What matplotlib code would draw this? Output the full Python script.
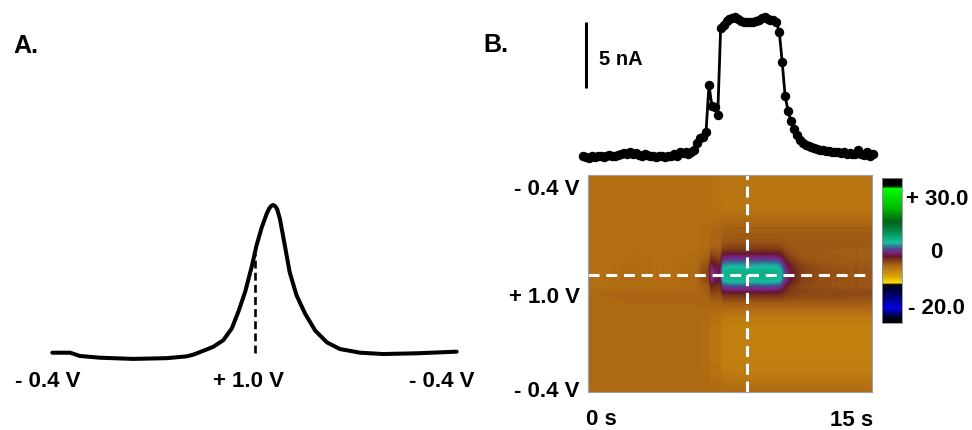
import numpy as np
import matplotlib
matplotlib.use("Agg")
import matplotlib.pyplot as plt
from matplotlib.colors import LinearSegmentedColormap, TwoSlopeNorm

plt.rcParams['font.family'] = ['Liberation Sans', 'DejaVu Sans']
plt.rcParams['font.weight'] = 'bold'

W, H = 972, 430

# ---- panel A: voltammogram, x = fraction of the -0.4 -> +1.0 -> -0.4 V sweep
cv_x = [0.0, 0.044, 0.068, 0.118, 0.2, 0.283, 0.332, 0.35, 0.365, 0.38,
        0.398, 0.423, 0.444, 0.46, 0.477, 0.493, 0.505, 0.518, 0.53, 0.536,
        0.541, 0.546, 0.551, 0.556, 0.563, 0.575, 0.587, 0.604, 0.625, 0.65,
        0.679, 0.711, 0.761, 0.818, 0.901, 1.0]
cv_i = [0.0, 0.0, -0.022, -0.034, -0.042, -0.037, -0.025, -0.012, 0.004, 0.02,
        0.04, 0.085, 0.165, 0.277, 0.413, 0.581, 0.726, 0.849, 0.94, 0.975,
        0.993, 1.0, 0.993, 0.972, 0.904, 0.726, 0.545, 0.388, 0.265, 0.15,
        0.07, 0.025, 0.0, -0.009, -0.004, 0.007]
cv_labels = ['- 0.4 V', '+ 1.0 V', '- 0.4 V']
cv_label_x = [-0.012, 0.484, 0.963]
switch_x = 0.5   # +1.0 V turning point

# ---- panel B: current at the oxidation potential, one sample every 0.15 s
t_step = 0.15
trace_nA = [0.05, 0.0, -0.05, 0.05, 0.0, 0.1, 0.05, 0.0, 0.1, 0.15,
            0.05, 0.1, 0.15, 0.2, 0.3, 0.25, 0.35, 0.2, 0.3, 0.15,
            0.1, 0.2, 0.15, 0.05, 0.1, 0.0, 0.1, 0.05, 0.0, 0.05,
            0.1, 0.2, 0.1, 0.35, 0.3, 0.4, 0.25,
            0.38, 0.53, 1.06, 1.44, 1.5, 1.9, 5.45, 3.9, 3.8, 3.2, 9.8, 10.0,
            10.3, 10.45, 10.5, 10.6, 10.45, 10.3, 10.25, 10.2, 10.25, 10.2,
            10.3, 10.4, 10.55, 10.6, 10.45, 10.35, 10.4, 10.2, 9.5,
            7.2, 4.6, 3.5, 2.7, 2.1, 1.7, 1.3, 1.05, 0.9, 0.82, 0.74, 0.68,
            0.62, 0.55, 0.5, 0.45, 0.45, 0.4, 0.35, 0.4, 0.3, 0.35,
            0.25, 0.3, 0.2, 0.25, 0.5, 0.2, 0.15, 0.35, 0.1, 0.25]
scale_nA = 5
scale_bottom = 5.2

# colour plot rows, top (-0.4 V) -> middle (+1.0 V) -> bottom (-0.4 V), 40 rows
base_rows = [-6.0] * 21 + [-5.5] * 19
band_rows = [0, 0, 0, 0, 0, 0, 0, 0, 0, 0,
             0, 0, 0.04, 0.11, 0.28, 0.5, 0.8, 1.05, 1.1, 0.97,
             0.55, 0.23, 0.07, 0, 0, 0, 0, 0, 0, 0,
             0, 0, 0, 0, 0, 0, 0, 0, 0, 0]
drift_rows = [-0.5, -0.5, -0.5, -0.5, -0.5, -0.4, -0.3, 0.0, 0.4, 0.9,
              1.1, 1.2, 1.2, 1.1, 1.0, 1.0, 1.1, 1.2, 1.2, 1.2,
              1.3, 1.3, 1.2, 0.7, 0.0, -0.7, -1.3, -1.6, -1.7, -1.7,
              -1.7, -1.7, -1.7, -1.7, -1.6, -1.5, -1.3, -1.0, -0.6, -0.3]
hline_row = 0.461   # dashed line through the oxidation band
vline_t = 8.32      # dashed line through the time of the CV

cbar_ticks = [30, 0, -20]
cbar_labels = ['+ 30.0', '0', '- 20.0']
v_low, v_high = -26, 41

cmap_stops = [
    (0.00, '#000000'), (0.04, '#000028'), (0.10, '#0000e6'), (0.18, '#000078'),
    (0.235, '#000032'), (0.262, '#0a0a14'), (0.276, '#ffe100'), (0.32, '#dca500'),
    (0.36, '#c3820f'), (0.40, '#aa6414'), (0.43, '#823c14'), (0.46, '#64192d'),
    (0.485, '#821e82'), (0.51, '#50468c'), (0.53, '#327896'), (0.555, '#14c0a2'),
    (0.62, '#00965a'), (0.70, '#006414'), (0.80, '#00be00'), (0.93, '#00ff00'),
    (0.945, '#000000'), (1.00, '#000000'),
]
fscv = LinearSegmentedColormap.from_list('fscv', cmap_stops)


def px_axes(fig, left, top, right, bottom):
    return fig.add_axes([left / W, 1 - bottom / H, (right - left) / W, (bottom - top) / H])


def px_text(fig, x, y, s, size, ha='left'):
    fig.text(x / W, 1 - y / H, s, fontsize=size, fontweight='bold', ha=ha, va='baseline')


fig = plt.figure(figsize=(W / 100, H / 100), dpi=100)

# ---------------- A ----------------
ax_a = px_axes(fig, 52.3, 205, 456.7, 352.7)
ax_a.plot(cv_x, cv_i, color='black', lw=2.9, solid_joinstyle='round',
          solid_capstyle='round', clip_on=False)
top = np.interp(switch_x, cv_x, cv_i)
ax_a.plot([switch_x, switch_x], [0, top], color='black', lw=1.9,
          ls=(0, (3, 1.6)), clip_on=False)
ax_a.set_xlim(0, 1)
ax_a.set_ylim(0, 1)
ax_a.axis('off')
for lx, lab in zip(cv_label_x, cv_labels):
    ax_a.text(lx, -0.229, lab, fontsize=16, fontweight='bold', ha='center',
              va='baseline', clip_on=False)
px_text(fig, 13, 53, 'A.', 18)

# ---------------- B: current trace ----------------
trace = np.array(trace_nA)
t = np.arange(len(trace)) * t_step
ax_t = px_axes(fig, 583, 25, 873, 157)
ax_t.plot(t, trace, '-o', color='black', lw=2.0, ms=5.8, clip_on=False)
ax_t.plot([t_step, t_step], [scale_bottom, scale_bottom + scale_nA], color='black',
          lw=2.2, solid_capstyle='butt', clip_on=False)
ax_t.text(0.82, 6.97, f'{scale_nA} nA', fontsize=14.5, fontweight='bold', va='baseline')
ax_t.set_xlim(t[0], t[-1])
ax_t.set_ylim(0, 10)
ax_t.axis('off')
px_text(fig, 483, 52, 'B.', 18)

# ---------------- B: colour plot ----------------
released = np.maximum.accumulate(trace) / trace.max()
z = (np.array(base_rows)[:, None]
     + np.array(band_rows)[:, None] * trace[None, :]
     + np.array(drift_rows)[:, None] * released[None, :])
norm = TwoSlopeNorm(vmin=v_low, vcenter=0, vmax=v_high)

ax_c = px_axes(fig, 588, 175, 872, 392)
half = t_step / 2
im = ax_c.imshow(z, cmap=fscv, norm=norm, aspect='auto',
                 extent=[t[0] - half, t[-1] + half, 1, 0],
                 interpolation='bilinear', interpolation_stage='data')
ax_c.axhline(hline_row, color='white', lw=2.2, ls=(0, (3.6, 2.2)))
ax_c.axvline(vline_t, color='white', lw=2.2, ls=(0, (3.6, 2.2)))
ax_c.set_xticks([])
ax_c.set_yticks([])
for s in ax_c.spines.values():
    s.set_color('#a0a0a0')
    s.set_linewidth(0.8)

px_text(fig, 580, 195, '- 0.4 V', 16, ha='right')
px_text(fig, 580, 303, '+ 1.0 V', 16, ha='right')
px_text(fig, 580, 397, '- 0.4 V', 16, ha='right')
px_text(fig, 586, 425, '0 s', 16)
px_text(fig, 873, 426, '15 s', 16, ha='right')

# ---------------- colour bar ----------------
cax = px_axes(fig, 882, 178, 902, 323)
cb = fig.colorbar(im, cax=cax, ticks=cbar_ticks)
cb.outline.set_edgecolor('#909090')
cb.outline.set_linewidth(0.6)
cax.set_yticklabels(cbar_labels, fontsize=16, fontweight='bold')
for lab in cax.get_yticklabels():
    lab.set_horizontalalignment('center')
cax.tick_params(length=0, pad=25)

fig.savefig('out.png', dpi=100)
